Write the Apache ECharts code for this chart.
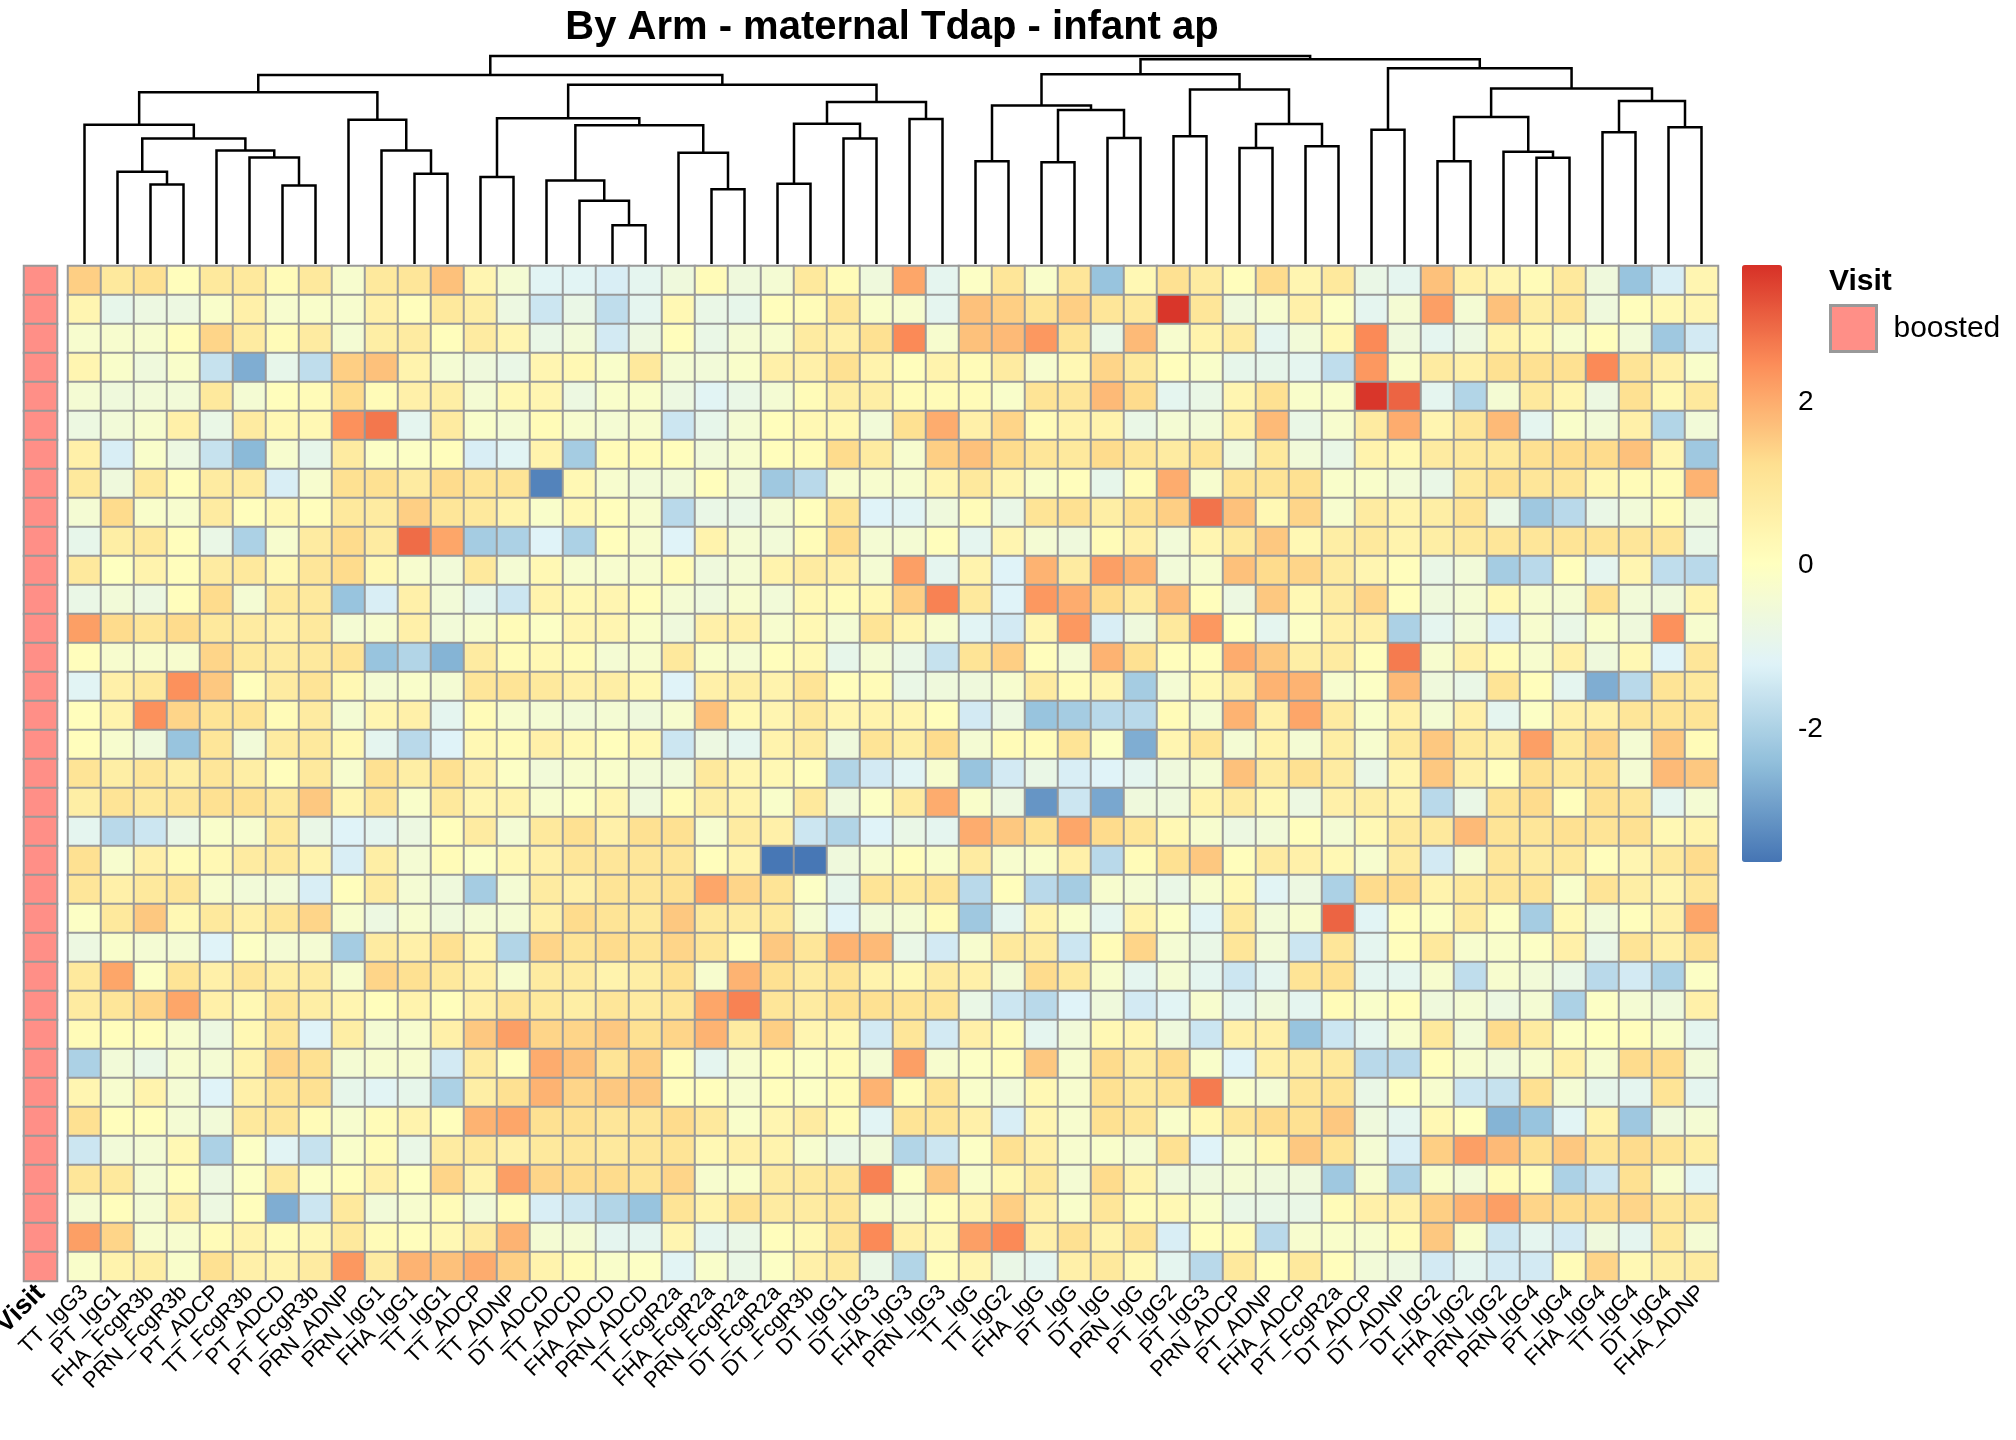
<!DOCTYPE html>
<html lang="en">

<head>
  <meta charset="UTF-8">
  <title>By Arm - maternal Tdap - infant ap</title>
  <style>
    html, body { margin: 0; padding: 0; background: #fff; }
    #chart { width: 2016px; height: 1440px; }
  </style>
</head>

<body>
  <div id="chart"></div>
  <script src="https://cdn.jsdelivr.net/npm/echarts@6.0.0/dist/echarts.min.js"></script>
  <script>
    // column order follows the clustering shown in the dendrogram
    const columns = [
      'TT_IgG3', 'PT_IgG1', 'FHA_FcgR3b', 'PRN_FcgR3b', 'PT_ADCP', 'TT_FcgR3b', 'PT_ADCD', 'PT_FcgR3b',
      'PRN_ADNP', 'PRN_IgG1', 'FHA_IgG1', 'TT_IgG1', 'TT_ADCP', 'TT_ADNP', 'DT_ADCD', 'TT_ADCD',
      'FHA_ADCD', 'PRN_ADCD', 'TT_FcgR2a', 'FHA_FcgR2a', 'PRN_FcgR2a', 'DT_FcgR2a', 'DT_FcgR3b', 'DT_IgG1',
      'DT_IgG3', 'FHA_IgG3', 'PRN_IgG3', 'TT_IgG', 'TT_IgG2', 'FHA_IgG', 'PT_IgG', 'DT_IgG',
      'PRN_IgG', 'PT_IgG2', 'PT_IgG3', 'PRN_ADCP', 'PT_ADNP', 'FHA_ADCP', 'PT_FcgR2a', 'DT_ADCP',
      'DT_ADNP', 'DT_IgG2', 'FHA_IgG2', 'PRN_IgG2', 'PRN_IgG4', 'PT_IgG4', 'FHA_IgG4', 'TT_IgG4',
      'DT_IgG4', 'FHA_ADNP'
    ];

    // scaled values, one row per sample (top to bottom), one entry per column
    const cellValues = [
      [1.5,0.9,1.2,0.1,0.9,0.9,0.2,0.9,-0.3,0.9,1.0,1.7,0.4,-0.4,-1.1,-1.1,-1.3, -1.0,-0.6,0.2,-0.6,-0.4,0.9,0.2,-0.6,2.1,-1.0,-0.1,1.0,-0.2,1.0,-2.3,0.3,1.2, 0.8,0.1,1.3,0.4,0.9,-0.8,-1.0,1.7,0.6,0.4,0.2,0.9,-0.6,-2.3,-1.3,0.4],
      [0.4,-0.9,-0.7,-0.7,-0.2,0.6,-0.3,-0.2,-0.3,0.6,0.1,0.9,0.7,-0.7,-1.5,-0.8,-1.7, -1.0,0.3,-0.8,-0.9,0.1,0.2,1.0,-0.2,-0.3,-1.0,1.7,1.5,1.1,1.5,1.0,0.9,3.6, 1.0,-0.6,-0.3,0.6,-0.1,-1.0,-0.4,2.2,-0.4,1.7,0.7,1.0,-0.6,0.1,0.3,0.4],
      [-0.3,-0.3,-0.3,0.1,1.4,0.8,0.2,0.8,-0.4,0.7,0.8,0.1,0.8,0.4,-0.8,-0.5,-1.4, -0.7,0.1,-0.8,-0.4,-0.3,0.8,0.6,1.2,2.5,-0.3,1.7,1.8,2.3,1.1,-0.8,1.8,-0.3, 0.5,0.8,-1.0,-0.5,0.3,2.5,-0.6,-1.0,-0.7,0.5,0.3,-0.3,0.1,-0.5,-2.2,-1.4],
      [0.4,-0.2,-0.6,-0.2,-1.6,-2.7,-0.9,-1.7,1.5,1.7,0.5,-0.4,-0.6,-0.8,0.4,0.3,-0.2, 0.9,-0.4,-0.5,-0.2,0.6,0.6,1.2,0.5,0.1,0.5,0.2,0.8,-0.3,0.3,1.4,0.9,0.1, -0.2,-0.9,-0.9,-1.0,-1.7,2.3,-0.2,0.8,0.6,1.2,1.2,1.2,2.5,1.1,0.6,-0.2],
      [-0.4,-0.6,-0.5,-0.5,0.9,-0.4,0.1,0.2,1.3,0.2,0.6,0.7,-0.4,0.3,0.4,-0.7,-0.2, -0.2,-0.7,-1.1,-0.8,-0.4,0.2,0.7,0.7,0.2,0.2,0.2,-0.2,1.1,1.0,1.8,1.3,-1.0, -0.8,0.4,1.2,-0.2,-0.2,3.6,3.0,-1.0,-1.9,-0.4,0.9,0.4,-0.7,1.2,0.3,0.9],
      [-0.7,-0.5,-0.3,0.6,-0.8,0.8,0.3,0.3,2.4,2.75,-1.0,0.8,-0.2,-0.4,0.2,-0.3,-0.4, -0.3,-1.5,-0.9,-0.4,0.1,0.3,0.3,-0.5,1.2,2.0,0.6,1.4,0.2,0.5,0.5,-0.8,-0.4, -0.5,0.6,1.8,-0.8,-0.3,0.8,2.0,0.4,1.0,1.8,-1.0,-0.2,-0.5,0.6,-1.9,-0.5],
      [0.6,-1.3,-0.2,-0.7,-1.6,-2.5,-0.3,-0.9,0.8,-0.1,-0.1,0.1,-1.3,-1.1,0.5,-2.1,0.2, 0.2,0.1,-0.5,-0.3,0.1,0.2,1.3,0.8,-0.3,1.5,1.7,1.3,1.0,0.9,1.3,1.0,0.8, 1.1,-0.6,0.9,-0.5,-0.8,0.5,0.3,0.8,0.9,0.9,1.2,1.3,1.3,1.7,0.4,-2.2],
      [0.9,-0.6,0.9,0.1,0.8,0.8,-1.3,-0.3,1.2,1.2,0.8,1.3,1.1,1.1,-3.4,0.3,-0.3, -0.5,-0.5,0.1,-0.5,-2.2,-1.8,-0.3,-0.3,-0.3,0.4,0.9,0.4,-0.2,0.1,-0.9,0.2,2.0, -0.3,1.1,1.1,1.2,-0.2,-0.2,-0.5,-0.8,0.9,1.2,1.0,1.0,0.3,0.2,0.2,1.9],
      [-0.4,1.3,-0.2,-0.3,0.8,0.1,0.3,0.1,0.9,0.8,1.5,1.0,0.9,0.5,-0.2,0.3,0.1, -0.3,-1.8,-0.8,-0.8,-0.4,0.1,1.1,-1.2,-1.1,-0.6,0.2,-0.8,1.1,1.2,0.7,1.2,1.5, 2.8,1.7,0.3,1.4,-0.3,0.8,0.5,0.7,1.1,-0.8,-2.2,-1.8,-0.8,-0.5,0.2,-0.6],
      [-0.9,0.7,0.9,0.1,-0.8,-2.0,-0.3,0.8,1.3,0.8,2.9,2.1,-2.1,-2.0,-1.2,-2.0,0.1, -0.3,-1.2,0.5,-0.4,-0.5,0.2,1.3,-0.4,-0.4,0.1,-1.0,0.4,-0.4,-0.6,0.2,0.6,-0.5, 0.4,0.9,1.6,0.3,0.7,0.9,0.5,0.7,0.9,1.0,1.0,1.1,1.1,1.0,1.0,-0.8],
      [0.9,0.0,0.5,0.1,0.8,0.9,0.3,1.0,1.3,0.3,-0.3,-0.5,0.9,-0.4,0.3,-0.3,-0.3, -0.3,0.2,-0.6,-0.4,0.5,0.8,0.6,-0.4,2.2,-1.0,0.5,-1.2,1.9,0.8,2.2,1.9,-0.5, -0.3,1.7,1.3,1.4,0.8,0.4,0.1,-0.8,-0.5,-2.1,-1.8,0.1,-1.0,0.4,-1.7,-1.8],
      [-0.8,-0.5,-0.7,0.1,1.3,-0.4,0.9,0.9,-2.3,-1.3,0.6,-0.5,-0.9,-1.5,0.5,0.3,0.4, 0.1,-0.4,-0.6,-0.3,-0.5,0.3,0.2,0.3,1.5,2.6,0.9,-1.2,2.3,2.0,1.3,0.8,1.8, 0.1,-0.7,1.6,0.3,0.8,1.4,0.1,-0.6,-0.4,0.3,-0.3,-0.4,1.2,-0.5,-0.6,0.5],
      [2.2,1.3,1.0,1.3,0.9,0.8,0.6,0.9,-0.4,-0.3,0.6,-0.5,-0.3,0.2,-0.1,0.4,0.4, -0.2,-0.6,0.6,0.6,-0.3,0.3,-0.4,1.1,0.4,-0.3,-1.1,-1.4,0.4,2.3,-1.3,-0.6,0.9, 2.3,0.0,-1.0,-0.1,0.6,0.6,-2.0,-1.0,-0.5,-1.3,-0.3,-0.8,-0.2,-0.6,2.4,-0.3],
      [0.1,-0.3,-0.3,-0.3,1.4,0.9,0.8,0.9,1.1,-2.3,-1.9,-2.6,0.8,0.2,0.3,0.2,-0.4, -0.3,0.9,-0.2,-0.4,0.1,0.3,-0.9,-0.4,-0.8,-1.6,1.1,1.5,0.1,-0.4,1.9,1.2,0.1, 0.1,2.0,1.6,0.7,0.8,0.1,2.7,-0.3,0.6,0.2,-0.3,0.6,-0.6,0.3,-1.2,1.0],
      [-1.1,0.6,0.9,2.4,1.6,0.1,0.8,1.1,0.3,-0.4,-0.2,-0.4,1.0,1.1,0.9,0.6,0.7, 0.3,-1.2,0.6,0.7,0.5,1.1,0.1,0.2,-0.8,-0.6,-0.6,-0.3,0.8,0.2,0.4,-2.1,-0.4, 0.3,0.8,1.9,1.9,-0.3,-0.1,1.8,-0.6,-0.8,1.1,0.1,-1.0,-2.7,-1.8,1.1,0.9],
      [0.1,0.5,2.4,1.4,1.1,1.1,0.2,0.8,-0.4,0.4,0.6,-1.0,0.2,-0.3,-0.4,-0.5,-0.4, -0.6,-0.3,1.7,0.3,0.4,0.9,0.4,0.5,0.4,0.1,-1.4,-0.7,-2.3,-2.1,-1.8,-1.8,0.2, -0.4,1.9,0.6,2.1,0.8,-0.2,0.6,-0.4,0.6,-1.0,-0.1,0.6,0.6,1.0,1.1,1.1],
      [0.1,-0.3,-0.6,-2.3,1.0,-0.5,0.8,0.9,0.3,-1.0,-1.8,-1.2,0.3,0.2,0.6,0.3,0.1, 0.3,-1.5,-0.7,-1.0,0.5,0.8,-0.6,1.1,0.7,1.3,-0.4,0.2,0.2,1.1,-0.1,-2.7,0.4, 1.1,-0.4,0.5,-0.4,0.7,-0.3,0.9,1.6,0.9,0.7,2.2,0.9,1.4,-0.4,1.6,0.2],
      [1.1,0.7,1.0,0.7,1.0,0.7,0.1,0.9,-0.3,1.2,0.7,1.2,0.6,-0.1,-0.5,-0.3,-0.2, -0.5,-0.5,0.9,0.4,0.3,0.1,-1.9,-1.4,-1.1,-0.3,-2.3,-1.4,-0.8,-1.3,-1.2,-1.0,-0.6, -0.4,1.7,0.8,1.2,0.8,-0.8,0.4,1.6,0.6,0.1,1.2,0.9,1.2,-0.4,1.8,1.6],
      [0.7,1.1,0.9,1.0,1.2,1.2,0.9,1.6,0.4,1.1,-0.2,0.9,0.4,0.5,-0.3,-0.1,0.4, -0.6,0.2,0.7,0.5,-0.2,0.9,-0.6,-0.1,0.8,2.0,-0.2,-0.7,-3.1,-1.5,-2.8,-0.6,-0.6, 0.5,0.8,0.3,-0.7,0.6,0.7,0.5,-1.8,-0.8,1.1,1.3,0.1,1.2,1.0,-1.0,-0.4],
      [-1.0,-1.8,-1.5,-0.8,-0.2,-0.3,0.9,-0.8,-1.2,-1.0,-0.7,0.1,0.8,-0.4,0.9,1.2,0.6, 1.2,1.2,-0.3,0.8,0.6,-1.5,-1.9,-1.2,-0.8,-1.0,2.0,1.6,1.2,2.1,1.3,1.0,0.3, -0.3,-0.7,-0.5,0.1,-0.4,0.3,0.9,0.9,1.8,1.1,1.0,1.2,1.1,1.2,0.3,0.5],
      [1.2,-0.3,0.6,0.2,0.3,0.8,0.9,0.5,-1.3,0.7,-0.4,0.2,-0.1,0.3,0.6,1.0,1.0, 1.0,1.0,0.1,0.5,-3.6,-3.6,-0.6,-0.3,0.1,-0.2,0.8,-0.3,-0.2,0.6,-1.8,0.2,1.2, 1.6,0.1,0.8,0.6,0.3,-0.3,0.8,-1.4,-0.4,1.0,0.8,0.9,0.1,0.4,0.9,1.3],
      [1.0,0.6,0.9,1.0,-0.3,-0.5,-0.5,-1.3,0.1,0.8,-0.4,-0.6,-2.1,-0.4,0.8,0.6,1.1, 1.0,1.2,2.1,1.4,1.1,-0.1,-0.9,1.1,0.9,1.1,-1.8,0.1,-1.8,-2.1,-0.3,-0.4,-0.8, -0.3,0.3,-1.1,-0.7,-2.0,1.3,1.3,0.5,0.9,1.0,1.1,-0.2,1.1,0.7,0.4,1.0],
      [-0.1,0.9,1.6,0.3,0.9,0.6,1.0,1.4,-0.3,-0.7,-0.3,-0.6,-0.4,-0.4,0.6,1.3,1.1, 0.9,1.6,0.9,0.8,0.9,-0.4,-1.2,-0.5,-0.4,0.2,-2.2,-1.0,0.5,-0.2,-1.0,0.5,-0.1, -1.1,0.9,-0.5,-0.3,3.0,-1.1,0.1,-0.1,0.8,-0.1,-2.1,0.3,-0.5,0.1,0.6,2.1],
      [-0.7,-0.2,-0.4,-0.4,-1.2,-0.1,-0.4,-0.4,-2.1,0.8,0.6,1.2,0.4,-1.9,1.4,1.1,1.3, 1.1,1.4,1.0,0.1,1.6,1.0,1.9,1.8,-0.8,-1.4,-0.3,0.9,0.8,-1.5,0.2,1.4,-0.4, -0.8,1.0,-0.5,-1.5,1.0,-1.0,0.1,0.9,-0.3,-0.2,-0.1,0.6,-0.8,1.1,0.6,1.2],
      [0.9,2.1,-0.1,1.1,0.6,1.0,0.7,0.8,-0.3,1.4,1.2,0.9,0.6,-0.3,0.8,0.8,0.5, 0.7,1.2,-0.3,1.9,1.2,0.8,1.1,0.5,0.3,0.8,0.6,-0.5,1.3,0.9,-0.3,-1.0,-0.4, -1.0,-1.5,-1.0,1.1,1.2,-1.0,-1.0,-0.3,-1.7,-0.3,-0.5,-0.8,-1.8,-1.4,-2.0,-0.1],
      [0.8,1.0,1.4,2.1,0.6,0.3,1.0,0.7,0.4,0.1,0.5,0.1,0.6,1.0,0.9,0.7,1.0, 0.8,1.0,2.1,2.6,1.0,0.8,1.2,1.2,1.1,1.1,-0.8,-1.5,-1.8,-1.2,-0.6,-1.4,-1.1, -0.3,-1.0,-0.6,-1.0,0.2,-0.2,0.1,-0.6,-0.4,-0.7,-0.4,-2.0,-0.1,-0.4,-0.6,0.6],
      [0.2,0.1,0.1,-0.3,-0.7,0.3,1.0,-1.2,0.7,-0.4,-0.3,0.6,1.6,2.2,1.4,1.4,1.6, 1.2,1.4,1.9,0.8,1.5,0.4,0.3,-1.4,1.0,-1.4,0.6,0.2,-1.0,-0.5,0.3,0.4,-0.6, -1.5,0.6,0.6,-2.3,-1.5,-1.0,-0.3,0.9,-0.5,1.3,0.8,-0.1,0.0,0.1,-0.2,-1.0],
      [-2.0,-0.5,-0.8,-0.3,-0.4,0.5,1.4,1.2,-0.4,-0.3,-0.3,-1.4,0.8,0.1,2.0,1.7,1.1, 1.5,0.1,-1.0,-0.3,0.1,-0.1,0.2,-0.4,2.2,-0.3,-0.1,0.1,1.6,-0.3,1.3,0.8,1.3, -0.2,-1.2,0.6,0.8,0.9,-1.8,-1.8,0.1,-0.3,-0.5,-0.3,0.6,-0.3,1.3,1.3,-0.5],
      [0.4,-0.3,0.5,-0.4,-1.2,0.6,1.1,1.2,-0.9,-1.1,-0.9,-2.0,0.7,1.2,1.9,1.4,1.6, 1.6,0.1,0.1,-0.3,0.1,-0.1,0.2,1.9,0.2,1.1,-0.2,-0.5,0.3,-0.3,1.2,0.9,1.1, 2.7,-0.2,-0.4,1.0,1.1,-0.8,0.0,-0.3,-1.5,-1.6,1.2,-0.4,-0.9,-1.0,1.1,-1.0],
      [1.2,0.1,0.1,-0.4,-0.5,0.9,1.0,0.2,-0.3,0.2,0.5,0.1,1.9,2.1,1.2,1.2,1.0, 1.0,1.3,0.9,-0.2,0.4,0.8,0.2,-1.1,1.1,1.1,0.6,-1.3,0.4,-0.3,1.2,1.0,-0.2, 0.3,1.0,1.3,1.2,1.6,-0.6,-1.0,0.3,0.0,-2.6,-2.3,-1.1,0.5,-2.2,-0.6,-0.4],
      [-1.5,-0.5,-0.4,0.3,-2.0,-0.1,-1.1,-1.6,-0.2,0.2,-0.8,0.8,0.9,0.6,0.9,1.0,0.9, 1.0,1.1,0.3,0.6,0.5,-0.3,-0.8,-0.5,-1.9,-1.5,-0.1,1.2,0.6,-0.3,-0.2,-0.4,1.2, -1.2,-0.3,0.3,1.6,1.1,-0.4,-1.3,1.5,2.2,1.8,1.2,1.6,1.1,1.3,1.1,0.7],
      [1.0,0.9,-0.4,0.1,-0.7,-0.1,0.9,-0.1,0.1,0.6,0.0,1.4,0.5,2.2,1.4,1.3,1.3, 1.1,1.4,-0.3,-0.2,0.8,0.9,1.0,2.6,-0.1,1.6,-0.2,0.3,0.9,-0.4,1.3,0.5,-0.6, -0.6,-0.4,-0.6,-0.6,-2.2,-0.3,-2.0,-0.2,-0.5,0.2,0.1,-2.0,-1.5,1.2,-0.3,-1.1],
      [-0.4,0.1,-0.4,0.6,-0.7,0.1,-2.7,-1.5,0.9,-0.5,-0.3,0.2,-0.5,0.2,-1.3,-1.5,-1.9, -2.3,1.1,0.5,1.2,0.8,0.8,1.0,-0.3,-0.4,0.1,0.4,1.5,0.6,-0.2,1.0,0.2,0.3, -0.2,-0.8,-0.8,-0.8,0.2,0.6,0.6,1.5,1.9,2.2,1.4,1.3,1.3,1.4,1.0,1.0],
      [2.2,1.4,-0.3,-0.3,0.2,0.5,0.2,0.3,0.9,0.2,0.1,0.3,0.8,1.9,-0.4,-0.4,-1.0, -1.0,0.4,-1.0,-0.8,0.1,0.3,1.1,2.5,0.6,0.3,2.2,2.5,0.6,1.2,0.5,1.1,-1.3, 0.1,0.2,-1.8,-0.3,-0.2,-0.3,0.2,1.6,-0.2,-1.5,-1.0,-1.4,-0.6,-1.0,0.9,-0.4],
      [-0.2,0.5,0.7,-0.2,1.2,0.6,0.5,0.8,2.3,0.8,1.9,1.7,2.0,1.5,0.5,0.2,-0.2, -0.1,-1.1,-0.2,-0.8,-0.1,0.6,0.9,-0.8,-1.9,0.1,0.4,-0.8,-1.0,0.6,0.9,0.3,-1.0, -1.8,0.9,0.1,0.9,0.1,-0.5,-0.7,-1.4,-1.0,-1.4,-1.4,0.2,1.4,0.3,0.7,0.8]
    ];

    // every sample carries the same Visit annotation
    const visit = cellValues.map(() => 'boosted');

    // column dendrogram: [node, left child, right child, merge height]
    // numbers are leaf positions, strings are earlier merges
    const treeMerges = [
      ['A', 2, 3, 240], ['B', 1, 'A', 278], ['C', 6, 7, 237], ['D', 5, 'C', 321],
      ['E', 4, 'D', 342], ['F', 'B', 'E', 378], ['G', 0, 'F', 420], ['H', 10, 11, 272],
      ['I', 9, 'H', 342], ['J', 8, 'I', 435], ['K', 'G', 'J', 518], ['L', 12, 13, 262],
      ['M', 16, 17, 117], ['N', 15, 'M', 191], ['O', 14, 'N', 252], ['P', 19, 20, 225],
      ['Q', 18, 'P', 335], ['R', 'O', 'Q', 418], ['S', 'L', 'R', 439], ['T', 21, 22, 242],
      ['U', 23, 24, 378], ['V', 'T', 'U', 423], ['W', 25, 26, 437], ['X', 'V', 'W', 488],
      ['Y', 'S', 'X', 540], ['Z', 'K', 'Y', 570],
      ['a', 27, 28, 310], ['b', 29, 30, 307], ['c', 31, 32, 380], ['d', 'b', 'c', 464],
      ['e', 'a', 'd', 478], ['f', 33, 34, 385], ['g', 35, 36, 350], ['h', 37, 38, 355],
      ['i', 'g', 'h', 422], ['j', 'f', 'i', 526], ['k', 'e', 'j', 572], ['l', 39, 40, 405],
      ['m', 41, 42, 310], ['n', 44, 45, 320], ['o', 43, 'n', 338], ['p', 'm', 'o', 443],
      ['q', 46, 47, 397], ['r', 48, 49, 412], ['s', 'q', 'r', 491], ['t', 'p', 's', 529],
      ['u', 'l', 't', 590], ['v', 'k', 'u', 617], ['root', 'Z', 'v', 627]
    ];

    const scaleMin = -3.63;
    const scaleMax = 3.68;
    const scaleTicks = [-2, 0, 2];
    const palette = ['#4575B4', '#91BFDB', '#E0F3F8', '#FFFFBF', '#FEE090', '#FC8D59', '#D73027'];

    window.onload = function () {
      const font = 'Liberation Sans, Arial, sans-serif';
      const rowIds = cellValues.map((r, i) => String(i + 1));

      let heatData = [];
      cellValues.forEach((row, r) => {
        row.forEach((v, c) => heatData.push([c, r, v]));
      });
      let visitData = visit.map((v, r) => [0, r, 1]);

      // node positions for the dendrogram
      let nodes = {};
      let pos = ref => typeof ref === 'number' ? { x: ref + 0.5, h: 0 } : nodes[ref];
      let treeData = [];
      treeMerges.forEach(([name, a, b, h]) => {
        let l = pos(a), r = pos(b);
        nodes[name] = { x: (l.x + r.x) / 2, h: h };
        treeData.push([l.x, l.h, r.x, r.h, h]);
      });

      let chart = echarts.init(document.getElementById('chart'));
      chart.setOption({
        animation: false,
        backgroundColor: '#fff',
        textStyle: { fontFamily: font },
        title: [
          {
            text: 'By Arm - maternal Tdap - infant ap',
            left: 892, top: 8, textAlign: 'center', padding: 0,
            textStyle: { fontSize: 40, fontWeight: 'bold', color: '#000', fontFamily: font }
          },
          {
            text: 'Visit',
            left: 1829, top: 267, padding: 0,
            textStyle: { fontSize: 30, fontWeight: 'bold', color: '#000', fontFamily: font }
          }
        ],
        legend: {
          data: ['boosted'],
          left: 1829, top: 304, padding: 0,
          icon: 'rect', itemWidth: 46, itemHeight: 46,
          itemStyle: { borderColor: '#999', borderWidth: 3 },
          textStyle: { fontSize: 30, color: '#000', fontFamily: font, padding: [0, 0, 0, 12] }
        },
        visualMap: {
          type: 'continuous',
          seriesIndex: 0,
          min: scaleMin, max: scaleMax,
          calculable: false,
          left: 1742, top: 265, padding: 0,
          itemWidth: 40, itemHeight: 597,
          inRange: { color: palette }
        },
        grid: [
          { left: 68, top: 266, width: 1650, height: 1015, outerBoundsMode: 'none' },
          { left: 24, top: 266, width: 33, height: 1015, outerBoundsMode: 'none' },
          { left: 68, top: 56, width: 1650, height: 208, outerBoundsMode: 'none' },
          { left: 1742, top: 265, width: 40, height: 597, outerBoundsMode: 'none' }
        ],
        xAxis: [
          {
            type: 'category', gridIndex: 0, data: columns,
            axisLine: { show: false }, axisTick: { show: false },
            axisLabel: { interval: 0, rotate: 45, margin: 8, fontSize: 22, color: '#000', fontFamily: font }
          },
          {
            type: 'category', gridIndex: 1, data: ['Visit'],
            axisLine: { show: false }, axisTick: { show: false },
            axisLabel: { rotate: 45, margin: 8, fontSize: 27, fontWeight: 'bold', color: '#000', fontFamily: font }
          },
          { type: 'value', gridIndex: 2, min: 0, max: columns.length, show: false },
          { type: 'value', gridIndex: 3, min: 0, max: 1, show: false }
        ],
        yAxis: [
          { type: 'category', gridIndex: 0, data: rowIds, inverse: true, show: false },
          { type: 'category', gridIndex: 1, data: rowIds, inverse: true, show: false },
          { type: 'value', gridIndex: 2, min: 0, max: 627, show: false },
          {
            type: 'value', gridIndex: 3, min: scaleMin, max: scaleMax, position: 'right',
            axisLine: { show: false }, axisTick: { show: false }, splitLine: { show: false },
            axisLabel: { customValues: scaleTicks, margin: 16, fontSize: 28, color: '#000', fontFamily: font }
          }
        ],
        series: [
          {
            type: 'heatmap', name: 'values', xAxisIndex: 0, yAxisIndex: 0,
            data: heatData,
            itemStyle: { borderColor: '#999', borderWidth: 2 },
            emphasis: { disabled: true }
          },
          {
            type: 'heatmap', name: 'boosted', xAxisIndex: 1, yAxisIndex: 1,
            data: visitData,
            itemStyle: { color: '#FF8F87', borderColor: '#999', borderWidth: 2 },
            emphasis: { disabled: true }
          },
          {
            type: 'custom', name: 'dendrogram', xAxisIndex: 2, yAxisIndex: 2,
            data: treeData,
            silent: true,
            renderItem: function (params, api) {
              let a = api.coord([api.value(0), api.value(1)]);
              let at = api.coord([api.value(0), api.value(4)]);
              let bt = api.coord([api.value(2), api.value(4)]);
              let b = api.coord([api.value(2), api.value(3)]);
              return {
                type: 'polyline',
                shape: { points: [a, at, bt, b] },
                style: { stroke: '#000', lineWidth: 2.5, fill: null }
              };
            }
          }
        ]
      });
    };
  </script>
</body>

</html>
